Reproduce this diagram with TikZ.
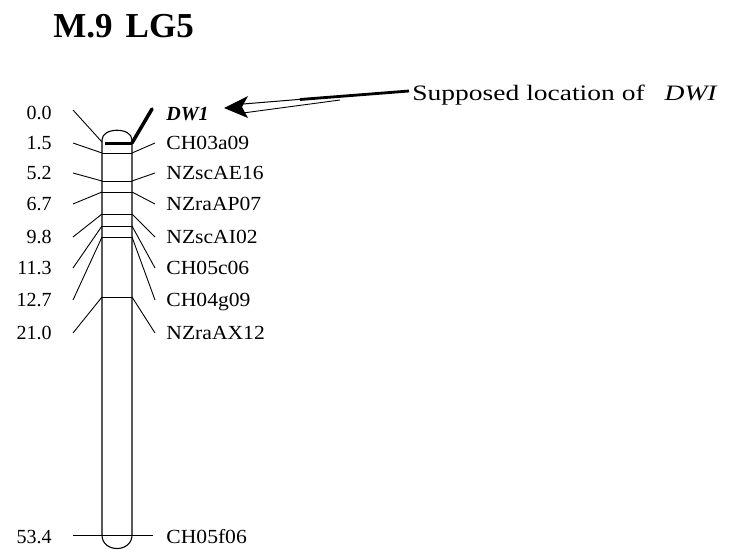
\documentclass[tikz,border=0pt]{standalone}
\usepackage{fontspec}
\setmainfont{Liberation Serif}
\newfontfamily\widefont[FakeStretch=1.25]{Liberation Serif}
\newfontfamily\lblfont[FakeStretch=1.08]{Liberation Serif}
\begin{document}
\begin{tikzpicture}[x=1pt,y=-1pt,line width=0.9pt,
  numlbl/.style={anchor=base east,inner sep=0,font=\fontsize{20}{20}\selectfont},
  mklbl/.style={anchor=base west,inner sep=0,font=\lblfont\fontsize{20}{20}\selectfont},
  conn/.style={line width=0.9pt},
  chrom/.style={line width=1.1pt}]
\useasboundingbox (0,0) rectangle (752,549);
% title
\node[anchor=base west,inner sep=0,font=\bfseries\fontsize{35}{35}\selectfont] (title) at (53,37) {M.9\hspace{13pt}LG5};
% chromosome outline
\draw[chrom] (102,535) -- (102,140) .. controls (102,127) and (132,127) .. (132,140) -- (132,535);
\draw[chrom] (102,535) .. controls (102,553) and (132,553) .. (132,535);
% marker lines inside chromosome
\foreach \my in {153,181,192,214,226,237,297}
  \draw[conn] (102,\my) -- (132,\my);
\draw[line width=3pt] (105,143) -- (132,143);
\draw[conn] (73,535) -- (153,535);
% DW1 label and connectors
\node[anchor=base west,inner sep=0,font=\bfseries\itshape\fontsize{20}{20}\selectfont] (dw) at (166,120) {DW1};
\node[numlbl] (n0) at (52,119.5) {0.0};
\coordinate (l0) at (73,110);
\coordinate (c0l) at (102,142);
\coordinate (c0r) at (132,143);
\coordinate (r0) at (152,109);
\draw[conn] (l0) -- (c0l);
\draw[line width=3.5pt,line cap=round] (c0r) -- (r0);
% other markers
\foreach \i/\my/\ly/\num/\lab in {1/153/143/1.5/CH03a09,2/181/173/5.2/NZscAE16,3/192/204/6.7/NZraAP07,4/214/237/9.8/NZscAI02,5/226/268/11.3/CH05c06,6/237/300/12.7/CH04g09,7/297/333/21.0/NZraAX12}{
  \node[numlbl] (n\i) at (52,\ly+6.5) {\num};
  \node[mklbl] (m\i) at (166,\ly+6.5) {\lab};
  \coordinate (l\i) at (73,\ly);
  \coordinate (r\i) at (155,\ly);
  \coordinate (cl\i) at (102,\my);
  \coordinate (cr\i) at (132,\my);
  \draw[conn] (l\i) -- (cl\i);
  \draw[conn] (cr\i) -- (r\i);
}
\node[numlbl] (n8) at (52,543.5) {53.4};
\node[mklbl] (m8) at (166,543.5) {CH05f06};
% annotation
\node[anchor=base west,inner sep=0,font=\widefont\fontsize{22}{22}\selectfont] (sup) at (412,100) {Supposed location of\hspace{20pt}\textit{DWI}};
\coordinate (tail) at (409,91);
\coordinate (mid) at (300,99.5);
\coordinate (tip) at (224,108);
\draw[line width=2.8pt] (tail) -- (mid);
\draw[line width=1pt] (335,96.5) -- (243,104);
\draw[line width=0.9pt] (340,100) -- (243,113);
\fill (tip) -- (248,96) -- (242,107) -- (248,118) -- cycle;
\end{tikzpicture}
\end{document}
